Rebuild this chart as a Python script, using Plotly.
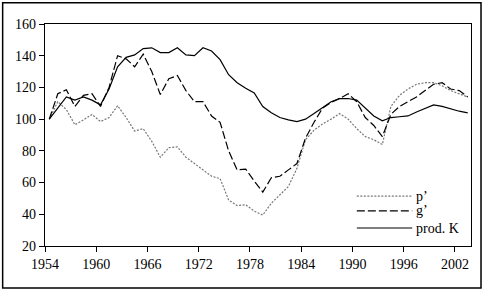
import plotly.graph_objects as go

years = list(range(1954, 2004))

p_prime = [100, 111, 106, 96.5, 99.5, 103, 98.5, 101, 108.5, 101,
           92.5, 94, 86, 76, 82, 82.5, 76, 72, 68.5, 64,
           62.5, 49, 45.5, 46, 42, 39.5, 47, 52.5, 57.5, 69,
           87, 93, 97, 100, 103.5, 100, 94, 89, 87, 84,
           108, 115, 119, 122, 123, 123, 121, 118, 116, 114]

g_prime = [100, 116, 118.5, 108, 115, 116, 108, 120, 140, 138,
           133, 141, 130, 115.5, 125.5, 127.5, 118, 111, 111, 102,
           98, 80, 68, 68.5, 61, 54, 63, 64, 68, 72,
           88, 98, 107, 110.5, 113, 116, 111, 101, 96, 89,
           103, 108, 111, 114, 118, 122, 123, 119, 118, 114]

prod_k = [100, 107, 114, 112, 114, 112, 109, 119, 133, 139,
          140.5, 144.5, 145, 142, 142, 145, 140.5, 140, 145, 143,
          137.5, 128, 123, 119.5, 116.5, 108, 104, 101, 99.5, 98.5,
          100, 103.5, 107.5, 111, 113, 113, 112, 107, 102, 99,
          101, 101.5, 102, 104.5, 107, 109, 108, 106.5, 105, 104]

tick_labels = ["1954", "1960", "1966", "1972", "1978", "1984", "1990", "1996", "2002"]
series_names = ["p\u2019", "g\u2019", "prod. K"]

FONT = "Liberation Serif"
styles = [dict(color="#777777", width=1.2, dash="2px,1.5px"),
          dict(color="black", width=1.2, dash="8px,3px"),
          dict(color="black", width=1.2, dash="solid")]

fig = go.Figure()
for name, vals, st in zip(series_names, [p_prime, g_prime, prod_k], styles):
    fig.add_trace(go.Scatter(x=years, y=vals, mode="lines", name=name,
                             line=st, showlegend=False))

# manual legend (lines + labels)
leg_y = [0.225, 0.158, 0.081]
for name, st, yy in zip(series_names, styles, leg_y):
    fig.add_shape(type="line", xref="paper", yref="paper",
                  x0=0.732, x1=0.862, y0=yy, y1=yy,
                  line=dict(color=st["color"], width=1.2, dash=st["dash"]))
    fig.add_annotation(xref="paper", yref="paper", x=0.866, y=yy,
                       text=name, showarrow=False, xanchor="left", yanchor="middle",
                       font=dict(family=FONT, size=14, color="black"))

# outer frame
fig.add_shape(type="rect", xref="paper", yref="paper",
              x0=-0.0994, x1=1.0235, y0=-0.1894, y1=1.096,
              line=dict(color="black", width=1.5))

tickvals = [int(t) - 0.5 for t in tick_labels]

fig.update_layout(
    width=489, height=293,
    margin=dict(l=45, r=18, t=24, b=47),
    paper_bgcolor="white", plot_bgcolor="white",
    font=dict(family=FONT, size=14, color="black"),
    xaxis=dict(range=[1953.5, 2003.38], tickvals=tickvals, ticktext=tick_labels,
               showgrid=False, zeroline=False, showline=True, linecolor="black",
               linewidth=1.3, mirror=True, ticks="outside", ticklen=5,
               tickcolor="black", tickwidth=1.2),
    yaxis=dict(range=[20, 160], dtick=20, tick0=20,
               showgrid=False, zeroline=False, showline=True, linecolor="black",
               linewidth=1.3, mirror=True, ticks="outside", ticklen=5,
               tickcolor="black", tickwidth=1.2),
)

fig.write_html("out.html")
